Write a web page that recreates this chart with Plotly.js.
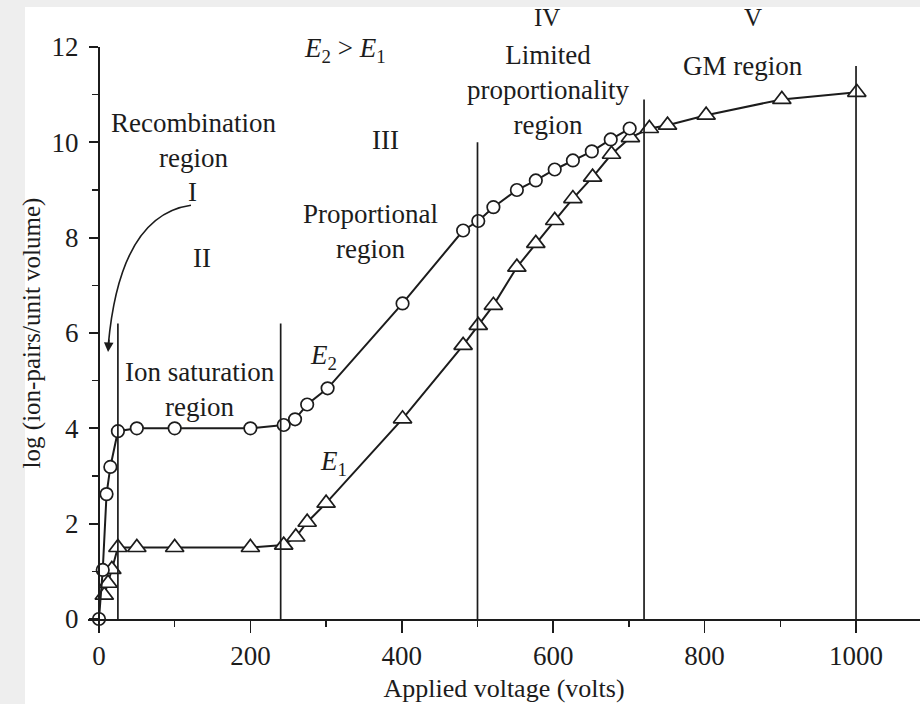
<!DOCTYPE html>
<html>
<head>
<meta charset="utf-8">
<script src="https://cdn.plot.ly/plotly-3.0.1.min.js"></script>
<style>html,body{margin:0;padding:0;background:#fff;}#chart{width:920px;height:704px;}</style>
</head>
<body>
<div id="chart"></div>
<script>
// ---- data ----
const e2Voltage = [0, 5, 10, 15, 25, 50, 100, 200, 244, 259, 275, 302, 401, 481, 501, 521, 552, 577, 602, 626, 651, 676, 701];
const e2LogIons = [0, 1.03, 2.62, 3.19, 3.94, 4.0, 4.0, 4.0, 4.07, 4.19, 4.5, 4.84, 6.62, 8.15, 8.35, 8.64, 9.0, 9.2, 9.43, 9.62, 9.81, 10.06, 10.29];

const e1Voltage = [7, 12, 17, 25, 50, 100, 200, 244, 260, 275, 300, 401, 481, 501, 521, 552, 577, 602, 626, 652, 677, 702, 727, 751, 802, 902, 1001];
const e1LogIons = [0.5, 0.75, 1.04, 1.5, 1.5, 1.5, 1.5, 1.55, 1.72, 2.03, 2.43, 4.2, 5.74, 6.16, 6.58, 7.38, 7.88, 8.36, 8.82, 9.27, 9.75, 10.1, 10.29, 10.36, 10.57, 10.9, 11.05];

const boundaryVoltage = [25, 240, 500, 720, 1000];
const boundaryTop = [6.2, 6.2, 10.0, 10.9, 11.6];

const xTickVals = [0, 200, 400, 600, 800, 1000];
const yTickVals = [0, 2, 4, 6, 8, 10, 12];
const Y_MAX = 12;

const regionLabels = [
  {text: '<i>E</i><sub>2</sub> > <i>E</i><sub>1</sub>', x: 325, y: 11.94},
  {text: 'Recombination<br>region', x: 125.5, y: 10.03},
  {text: 'I', x: 124, y: 8.95},
  {text: 'II', x: 136, y: 7.57},
  {text: 'III', x: 378, y: 10.05},
  {text: 'Proportional<br>region', x: 358, y: 8.12},
  {text: 'Ion saturation<br>region', x: 133, y: 4.82},
  {text: '<i>E</i><sub>2</sub>', x: 296, y: 5.5},
  {text: '<i>E</i><sub>1</sub>', x: 310, y: 3.27},
  {text: 'IV', x: 592, y: 12.62},
  {text: 'Limited<br>proportionality<br>region', x: 593, y: 11.1},
  {text: 'V', x: 864, y: 12.62},
  {text: 'GM region', x: 851, y: 11.6}
];

// ---- chart ----
const FONT = 'Liberation Serif, Times New Roman, serif';
const INK = '#1c1c1c';

const traces = [
  {
    x: e1Voltage, y: e1LogIons, type: 'scatter', mode: 'lines+markers', name: 'E1',
    line: {color: INK, width: 2},
    marker: {symbol: 'triangle-up', size: 16, color: '#ffffff', line: {color: INK, width: 1.7}},
    cliponaxis: false
  },
  {
    x: e2Voltage, y: e2LogIons, type: 'scatter', mode: 'lines+markers', name: 'E2',
    line: {color: INK, width: 2},
    marker: {symbol: 'circle', size: 12.5, color: '#ffffff', line: {color: INK, width: 1.7}},
    cliponaxis: false
  }
];

const shapes = [
  {type: 'rect', xref: 'paper', yref: 'paper', x0: -0.0757, x1: 1.01, y0: -0.16, y1: 1.07,
   fillcolor: '#ffffff', line: {width: 0}, layer: 'below'}
];
boundaryVoltage.forEach((v, i) => {
  shapes.push({type: 'line', xref: 'x', yref: 'y', x0: v, x1: v, y0: 0, y1: boundaryTop[i],
               line: {color: INK, width: 1.7}});
});
shapes.push({type: 'path', xref: 'x', yref: 'y',
             path: 'M 121.5 8.68 Q 27.7 8.47 12.3 5.75', line: {color: INK, width: 1.6}});

// labels are placed in paper-y (value / Y_MAX) so those above the axis top stay visible
const annotations = regionLabels.map(l => ({
  text: l.text, x: l.x, y: l.y / Y_MAX, xref: 'x', yref: 'paper', showarrow: false,
  xanchor: 'center', yanchor: 'middle',
  font: {family: FONT, size: (l.text === 'IV' || l.text === 'V') ? 25 : 27, color: INK}
}));
annotations.push({
  text: '', x: 12, y: 5.6, xref: 'x', yref: 'y', showarrow: true,
  ax: 1, ay: -14, arrowhead: 2, arrowsize: 1.2, arrowwidth: 1.6, arrowcolor: INK
});

const layout = {
  width: 920, height: 704,
  margin: {l: 88, r: 0, t: 47, b: 85, pad: 0},
  paper_bgcolor: '#eeeeee',
  plot_bgcolor: 'rgba(0,0,0,0)',
  showlegend: false,
  font: {family: FONT, color: INK},
  xaxis: {
    range: [-14.5, 1084.5], showgrid: false, zeroline: false,
    showline: true, linecolor: INK, linewidth: 2,
    tickmode: 'array', tickvals: xTickVals,
    ticks: 'outside', ticklen: 12, tickwidth: 1.7, tickcolor: INK,
    minor: {ticks: 'outside', dtick: 100, tick0: 0, ticklen: 6, tickwidth: 1.5, tickcolor: INK},
    tickfont: {family: FONT, size: 27, color: INK},
    title: {text: 'Applied voltage (volts)', font: {family: FONT, size: 26, color: INK}, standoff: 8},
    fixedrange: true
  },
  yaxis: {
    range: [0, Y_MAX], showgrid: false, zeroline: false,
    anchor: 'free', position: 0.0132,
    showline: true, linecolor: INK, linewidth: 2,
    tickmode: 'array', tickvals: yTickVals,
    ticks: 'outside', ticklen: 9, tickwidth: 1.7, tickcolor: INK,
    minor: {ticks: 'outside', dtick: 1, tick0: 0, ticklen: 6, tickwidth: 1.5, tickcolor: INK},
    tickfont: {family: FONT, size: 27, color: INK},
    ticklabelstandoff: 5,
    title: {text: 'log (ion-pairs/unit volume)', font: {family: FONT, size: 25, color: INK}, standoff: 3},
    fixedrange: true
  },
  shapes: shapes,
  annotations: annotations
};

Plotly.newPlot('chart', traces, layout, {displayModeBar: false, staticPlot: true});
</script>
</body>
</html>
